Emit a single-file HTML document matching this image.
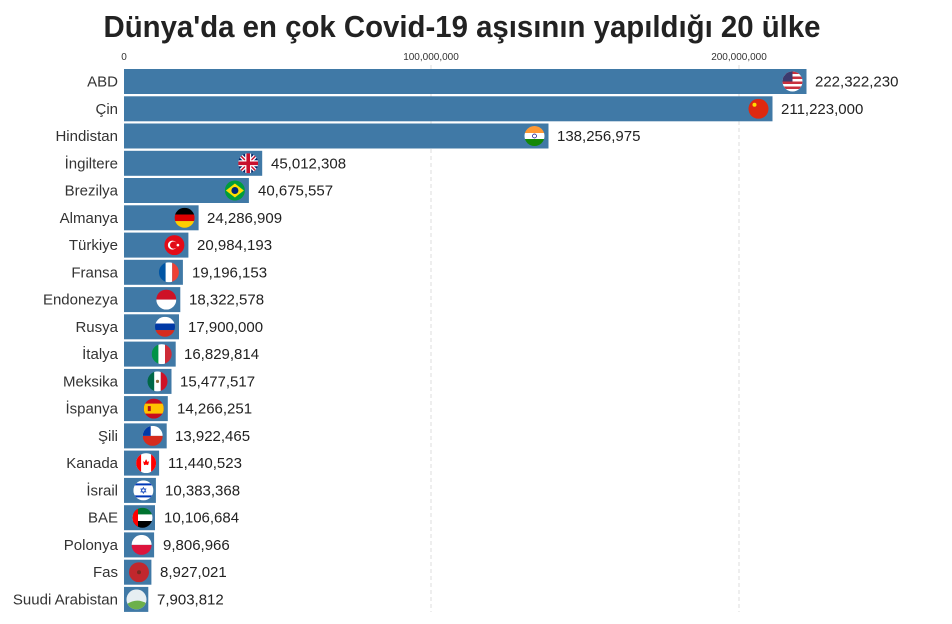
<!DOCTYPE html>
<html><head><meta charset="utf-8"><style>
html,body{margin:0;padding:0;background:#fff;}
svg{display:block;font-family:"Liberation Sans","DejaVu Sans",sans-serif;}
.l{font-size:15px;fill:#333;text-anchor:end;}
.v{font-size:15px;fill:#222;}
.b{fill:#4079a6;}
</style></head><body>
<svg width="952" height="624" viewBox="0 0 952 624" xmlns="http://www.w3.org/2000/svg">
<defs>
<clipPath id="c"><circle cx="0" cy="0" r="10"/></clipPath>
<g id="us" clip-path="url(#c)"><rect x="-10" y="-10" width="20" height="20" fill="#fff"/><rect x="-10" y="-10" width="20" height="2.5" fill="#c8313e"/><rect x="-10" y="-5" width="20" height="2.5" fill="#c8313e"/><rect x="-10" y="0" width="20" height="2.5" fill="#c8313e"/><rect x="-10" y="5" width="20" height="2.5" fill="#c8313e"/><rect x="-10" y="-10" width="10" height="10" fill="#3c3b6e"/></g>
<g id="cn" clip-path="url(#c)"><rect x="-10" y="-10" width="20" height="20" fill="#de2910"/><circle cx="-4" cy="-4" r="2" fill="#ffde00"/></g>
<g id="in" clip-path="url(#c)"><rect x="-10" y="-10" width="20" height="7" fill="#ff9933"/><rect x="-10" y="-3" width="20" height="6" fill="#fff"/><rect x="-10" y="3" width="20" height="7" fill="#138808"/><circle r="2" fill="none" stroke="#000080" stroke-width="0.7"/></g>
<g id="uk" clip-path="url(#c)"><rect x="-10" y="-10" width="20" height="20" fill="#012169"/><path d="M-10-10L10 10M10-10L-10 10" stroke="#fff" stroke-width="4"/><path d="M-10-10L10 10M10-10L-10 10" stroke="#c8102e" stroke-width="1.5"/><rect x="-10" y="-3" width="20" height="6" fill="#fff"/><rect x="-3" y="-10" width="6" height="20" fill="#fff"/><rect x="-10" y="-1.8" width="20" height="3.6" fill="#c8102e"/><rect x="-1.8" y="-10" width="3.6" height="20" fill="#c8102e"/></g>
<g id="br" clip-path="url(#c)"><rect x="-10" y="-10" width="20" height="20" fill="#009c3b"/><path d="M-9 0L0-7L9 0L0 7Z" fill="#ffdf00"/><circle r="3.5" fill="#002776"/></g>
<g id="de" clip-path="url(#c)"><rect x="-10" y="-10" width="20" height="7" fill="#000"/><rect x="-10" y="-3.3" width="20" height="6.6" fill="#dd0000"/><rect x="-10" y="3.3" width="20" height="7" fill="#ffce00"/></g>
<g id="tr" clip-path="url(#c)"><rect x="-10" y="-10" width="20" height="20" fill="#e30a17"/><circle cx="-2" r="4.5" fill="#fff"/><circle cx="-0.8" r="3.6" fill="#e30a17"/><circle cx="3.5" r="1.3" fill="#fff"/></g>
<g id="fr" clip-path="url(#c)"><rect x="-10" y="-10" width="7" height="20" fill="#0055a4"/><rect x="-3.3" y="-10" width="6.6" height="20" fill="#fff"/><rect x="3.3" y="-10" width="7" height="20" fill="#ef4135"/></g>
<g id="id" clip-path="url(#c)"><rect x="-10" y="-10" width="20" height="10" fill="#ce1126"/><rect x="-10" y="0" width="20" height="10" fill="#fff"/></g>
<g id="ru" clip-path="url(#c)"><rect x="-10" y="-10" width="20" height="7" fill="#fff"/><rect x="-10" y="-3.3" width="20" height="6.6" fill="#0039a6"/><rect x="-10" y="3.3" width="20" height="7" fill="#d52b1e"/></g>
<g id="it" clip-path="url(#c)"><rect x="-10" y="-10" width="7" height="20" fill="#009246"/><rect x="-3.3" y="-10" width="6.6" height="20" fill="#fff"/><rect x="3.3" y="-10" width="7" height="20" fill="#ce2b37"/></g>
<g id="mx" clip-path="url(#c)"><rect x="-10" y="-10" width="7" height="20" fill="#006847"/><rect x="-3.3" y="-10" width="6.6" height="20" fill="#fff"/><rect x="3.3" y="-10" width="7" height="20" fill="#ce1126"/><circle r="1.6" fill="#8c6a3a"/></g>
<g id="es" clip-path="url(#c)"><rect x="-10" y="-10" width="20" height="20" fill="#c60b1e"/><rect x="-10" y="-5" width="20" height="10" fill="#ffc400"/><rect x="-6" y="-2.5" width="3" height="5" fill="#ad1519"/></g>
<g id="cl" clip-path="url(#c)"><rect x="-10" y="-10" width="20" height="10" fill="#fff"/><rect x="-10" y="0" width="20" height="10" fill="#d52b1e"/><rect x="-10" y="-10" width="8" height="10" fill="#0039a6"/></g>
<g id="ca" clip-path="url(#c)"><rect x="-10" y="-10" width="20" height="20" fill="#fff"/><rect x="-10" y="-10" width="5" height="20" fill="#ff0000"/><rect x="5" y="-10" width="5" height="20" fill="#ff0000"/><path d="M0-4L1.5-1L3-2L2 2L0 1.5L-2 2L-3-2L-1.5-1Z" fill="#ff0000"/></g>
<g id="il" clip-path="url(#c)"><rect x="-10" y="-10" width="20" height="20" fill="#fff"/><rect x="-10" y="-7" width="20" height="2" fill="#0038b8"/><rect x="-10" y="5" width="20" height="2" fill="#0038b8"/><path d="M0-3L2.6 1.5L-2.6 1.5ZM0 3L2.6-1.5L-2.6-1.5Z" fill="none" stroke="#0038b8" stroke-width="0.6"/></g>
<g id="ae" clip-path="url(#c)"><rect x="-10" y="-10" width="20" height="7" fill="#00732f"/><rect x="-10" y="-3.3" width="20" height="6.6" fill="#fff"/><rect x="-10" y="3.3" width="20" height="7" fill="#000"/><rect x="-10" y="-10" width="5.5" height="20" fill="#ff0000"/></g>
<g id="pl" clip-path="url(#c)"><rect x="-10" y="-10" width="20" height="10" fill="#fff"/><rect x="-10" y="0" width="20" height="10" fill="#dc143c"/></g>
<g id="ma" clip-path="url(#c)"><rect x="-10" y="-10" width="20" height="20" fill="#c1272d"/><circle r="2" fill="#7a2a20"/></g>
<g id="sa" clip-path="url(#c)"><rect x="-10" y="-10" width="20" height="20" fill="#e6eef2"/><path d="M-10 5Q0-2 10 4L10 10L-10 10Z" fill="#6cb04a"/></g>
</defs>

<text x="462" y="37" text-anchor="middle" font-size="31" font-weight="bold" fill="#222" textLength="717" lengthAdjust="spacingAndGlyphs">Dünya'da en çok Covid-19 aşısının yapıldığı 20 ülke</text>

<g font-size="10" fill="#333" text-anchor="middle">
<text x="124" y="60">0</text>
<text x="431" y="60">100,000,000</text>
<text x="739" y="60">200,000,000</text>
</g>
<line x1="431" y1="65" x2="431" y2="612" stroke="#ddd" stroke-dasharray="4,3"/>
<line x1="739" y1="65" x2="739" y2="612" stroke="#ddd" stroke-dasharray="4,3"/>

<g>
<rect class="b" x="124" y="69" width="682.5" height="25"/>
<rect class="b" x="124" y="96.3" width="648.5" height="25"/>
<rect class="b" x="124" y="123.5" width="424.5" height="25"/>
<rect class="b" x="124" y="150.8" width="138.2" height="25"/>
<rect class="b" x="124" y="178" width="124.9" height="25"/>
<rect class="b" x="124" y="205.3" width="74.6" height="25"/>
<rect class="b" x="124" y="232.6" width="64.4" height="25"/>
<rect class="b" x="124" y="259.8" width="58.9" height="25"/>
<rect class="b" x="124" y="287.1" width="56.3" height="25"/>
<rect class="b" x="124" y="314.3" width="55" height="25"/>
<rect class="b" x="124" y="341.6" width="51.7" height="25"/>
<rect class="b" x="124" y="368.9" width="47.5" height="25"/>
<rect class="b" x="124" y="396.1" width="43.8" height="25"/>
<rect class="b" x="124" y="423.4" width="42.7" height="25"/>
<rect class="b" x="124" y="450.6" width="35.1" height="25"/>
<rect class="b" x="124" y="477.9" width="31.9" height="25"/>
<rect class="b" x="124" y="505.2" width="31" height="25"/>
<rect class="b" x="124" y="532.4" width="30.1" height="25"/>
<rect class="b" x="124" y="559.7" width="27.4" height="25"/>
<rect class="b" x="124" y="586.9" width="24.3" height="25"/>
</g>

<use href="#us" x="792.5" y="81.5"/>
<use href="#cn" x="758.5" y="108.8"/>
<use href="#in" x="534.5" y="136"/>
<use href="#uk" x="248.2" y="163.3"/>
<use href="#br" x="234.9" y="190.5"/>
<use href="#de" x="184.6" y="217.8"/>
<use href="#tr" x="174.4" y="245.1"/>
<use href="#fr" x="168.9" y="272.3"/>
<use href="#id" x="166.3" y="299.6"/>
<use href="#ru" x="165" y="326.8"/>
<use href="#it" x="161.7" y="354.1"/>
<use href="#mx" x="157.5" y="381.4"/>
<use href="#es" x="153.8" y="408.6"/>
<use href="#cl" x="152.7" y="435.9"/>
<use href="#ca" x="146.1" y="463.1"/>
<use href="#il" x="143.4" y="490.4"/>
<use href="#ae" x="142.5" y="517.7"/>
<use href="#pl" x="141.6" y="544.9"/>
<use href="#ma" x="139" y="572.2"/>
<use href="#sa" x="136.5" y="599.4"/>

<g class="l">
<text class="l" x="118" y="86.5">ABD</text>
<text class="l" x="118" y="113.8">Çin</text>
<text class="l" x="118" y="141">Hindistan</text>
<text class="l" x="118" y="168.3">İngiltere</text>
<text class="l" x="118" y="195.5">Brezilya</text>
<text class="l" x="118" y="222.8">Almanya</text>
<text class="l" x="118" y="250.1">Türkiye</text>
<text class="l" x="118" y="277.3">Fransa</text>
<text class="l" x="118" y="304.6">Endonezya</text>
<text class="l" x="118" y="331.8">Rusya</text>
<text class="l" x="118" y="359.1">İtalya</text>
<text class="l" x="118" y="386.4">Meksika</text>
<text class="l" x="118" y="413.6">İspanya</text>
<text class="l" x="118" y="440.9">Şili</text>
<text class="l" x="118" y="468.1">Kanada</text>
<text class="l" x="118" y="495.4">İsrail</text>
<text class="l" x="118" y="522.7">BAE</text>
<text class="l" x="118" y="549.9">Polonya</text>
<text class="l" x="118" y="577.2">Fas</text>
<text class="l" x="118" y="604.4">Suudi Arabistan</text>
</g>

<g>
<text class="v" x="815" y="86.5">222,322,230</text>
<text class="v" x="781" y="113.8">211,223,000</text>
<text class="v" x="557" y="141">138,256,975</text>
<text class="v" x="271" y="168.3">45,012,308</text>
<text class="v" x="258" y="195.5">40,675,557</text>
<text class="v" x="207" y="222.8">24,286,909</text>
<text class="v" x="197" y="250.1">20,984,193</text>
<text class="v" x="192" y="277.3">19,196,153</text>
<text class="v" x="189" y="304.6">18,322,578</text>
<text class="v" x="188" y="331.8">17,900,000</text>
<text class="v" x="184" y="359.1">16,829,814</text>
<text class="v" x="180" y="386.4">15,477,517</text>
<text class="v" x="177" y="413.6">14,266,251</text>
<text class="v" x="175" y="440.9">13,922,465</text>
<text class="v" x="168" y="468.1">11,440,523</text>
<text class="v" x="165" y="495.4">10,383,368</text>
<text class="v" x="164" y="522.7">10,106,684</text>
<text class="v" x="163" y="549.9">9,806,966</text>
<text class="v" x="160" y="577.2">8,927,021</text>
<text class="v" x="157" y="604.4">7,903,812</text>
</g>
</svg>
</body></html>
